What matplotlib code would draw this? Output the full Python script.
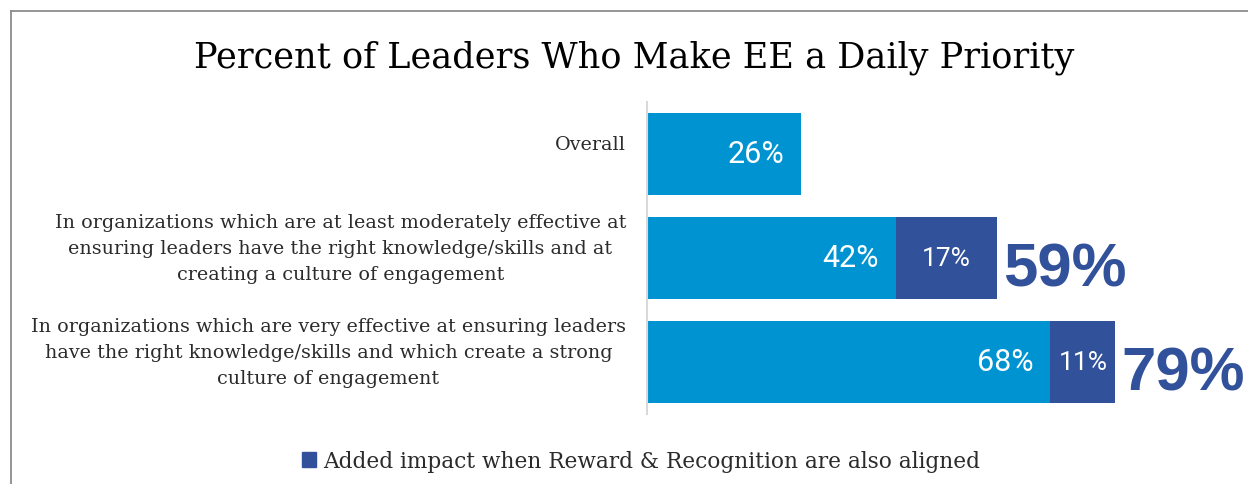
import matplotlib
matplotlib.use("Agg")
import matplotlib.pyplot as plt
from matplotlib.patches import Patch
from matplotlib.lines import Line2D

# ---- data ----
categories = [
    "Overall",
    "In organizations which are at least moderately effective at\nensuring leaders have the right knowledge/skills and at\ncreating a culture of engagement",
    "In organizations which are very effective at ensuring leaders\nhave the right knowledge/skills and which create a strong\nculture of engagement",
]
base_values = [26, 42, 68]
added_values = [0, 17, 11]
total_labels = [None, "59%", "79%"]
title = "Percent of Leaders Who Make EE a Daily Priority"
legend_label = "Added impact when Reward & Recognition are also aligned"

# ---- style ----
LIGHT = "#0093D2"
DARK = "#31519B"
W, H, DPI = 1248, 485, 100

fig = plt.figure(figsize=(W / DPI, H / DPI), dpi=DPI)
fig.patch.set_facecolor("white")

# frame lines (top and left)
fig.add_artist(Line2D([11 / W, 11 / W], [0, 1 - 12 / H], transform=fig.transFigure,
                      color="#8c8c8c", lw=1.3))
fig.add_artist(Line2D([11 / W, 1], [1 - 12 / H, 1 - 12 / H], transform=fig.transFigure,
                      color="#8c8c8c", lw=1.3))

ax = fig.add_axes([647 / W, 1 - 415 / H, 593 / W, 312 / H])
ypos = list(range(len(categories)))
ax.barh(ypos, base_values, height=0.795, color=LIGHT)
ax.barh(ypos, added_values, left=base_values, height=0.795, color=DARK)
ax.set_xlim(0, 100)
ax.set_ylim(len(categories) - 0.5, -0.5)
ax.set_xticks([])
ax.set_yticks([])
for s in ["top", "right", "bottom"]:
    ax.spines[s].set_visible(False)
ax.spines["left"].set_color("#d9d9d9")
ax.spines["left"].set_linewidth(1.5)

for i, cat in enumerate(categories):
    ax.annotate(cat, xy=(0, i), xytext=(-21, 10), textcoords="offset pixels",
                ha="right", va="center", multialignment="center",
                fontsize=13.8, family="DejaVu Serif", color="#2b2b2b",
                linespacing=1.57)
    b = base_values[i]
    ax.annotate(f"{b}%", xy=(b, i), xytext=(-17, 0), textcoords="offset pixels",
                ha="right", va="center", fontsize=22, color="white",
                family="Roboto")
    a = added_values[i]
    if a:
        ax.text(b + a / 2, i, f"{a}%", ha="center", va="center", fontsize=19,
                color="white", family="Roboto")
    if total_labels[i]:
        ax.annotate(total_labels[i], xy=(b + a, i), xytext=(6, -12),
                    textcoords="offset pixels", ha="left", va="center",
                    fontsize=44.5, fontweight="bold", color=DARK,
                    family="Liberation Sans", annotation_clip=False)

fig.text(634 / W, 1 - 58 / H, title, ha="center", va="center", fontsize=25.3,
         family="DejaVu Serif", color="black")

leg = fig.legend(handles=[Patch(facecolor=DARK, edgecolor=DARK)], labels=[legend_label],
                 loc="center", bbox_to_anchor=(641 / W, 1 - 462 / H), frameon=False,
                 prop={"family": "DejaVu Serif", "size": 15.6},
                 handlelength=0.65, handleheight=0.65, handletextpad=0.3)
for t in leg.get_texts():
    t.set_color("#2b2b2b")

fig.savefig("out.png", dpi=DPI, facecolor="white")
